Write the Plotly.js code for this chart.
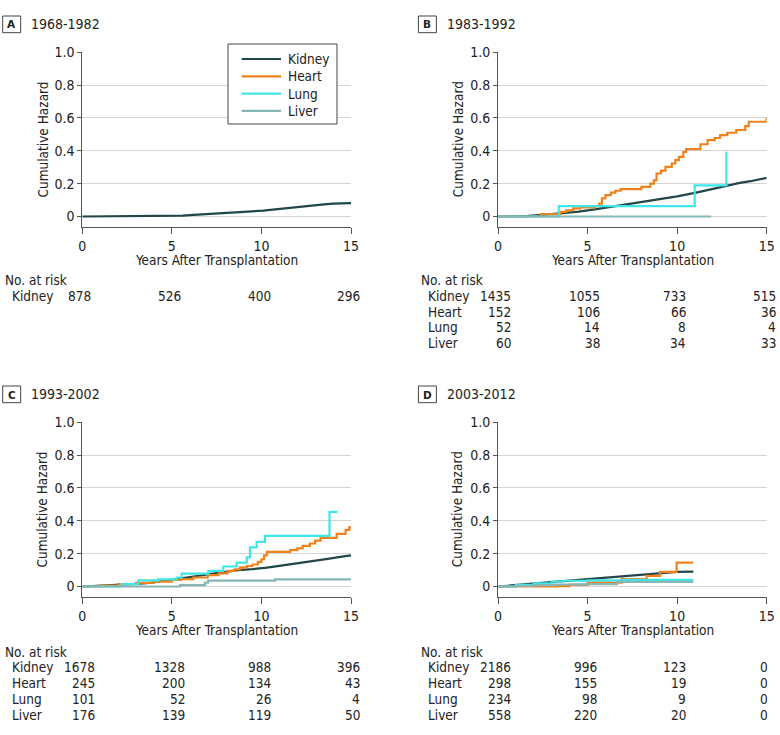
<!DOCTYPE html>
<html>
<head>
<meta charset="utf-8">
<script src="https://cdn.plot.ly/plotly-3.0.1.min.js"></script>
<style>
  body { margin: 0; background: #fff; }
  #chart { width: 780px; height: 735px; }
</style>
</head>
<body>
<div id="chart"></div>
<script>
// cumulative hazard curves (years, hazard)
const aKidneyT = [0, 3, 4.5, 5.2, 5.6, 6.0, 6.5, 7.0, 7.5, 8.0, 8.6, 9.2, 9.7, 10.1, 10.5, 10.9, 11.3, 11.8, 12.3, 12.6, 13.0, 13.5, 14.0, 14.8, 15];
const aKidneyH = [0, 0.001, 0.002, 0.004, 0.006, 0.008, 0.011, 0.013, 0.017, 0.021, 0.024, 0.028, 0.031, 0.036, 0.040, 0.045, 0.050, 0.054, 0.058, 0.065, 0.070, 0.074, 0.078, 0.080, 0.082];

const bKidneyT = [0, 1.0, 1.7, 2.5, 3.5, 4.5, 5.4, 6.3, 7.3, 8.2, 9.1, 10.0, 11.0, 12.0, 12.8, 13.5, 14.1, 15];
const bKidneyH = [0, 0.001, 0.004, 0.010, 0.018, 0.030, 0.043, 0.058, 0.075, 0.090, 0.105, 0.123, 0.144, 0.167, 0.190, 0.205, 0.215, 0.235];
const bHeartT = [0, 2.4, 3.5, 3.8, 4.2, 4.6, 5.4, 5.65, 5.8, 6.0, 6.3, 6.55, 6.85, 8.0, 8.5, 8.7, 8.85, 9.1, 9.35, 9.7, 9.9, 10.1, 10.35, 10.5, 11.3, 11.7, 12.1, 12.4, 12.8, 13.3, 13.8, 14.0, 15.0];
const bHeartH = [0, 0.014, 0.028, 0.038, 0.049, 0.055, 0.063, 0.078, 0.110, 0.130, 0.145, 0.157, 0.167, 0.180, 0.200, 0.220, 0.262, 0.280, 0.302, 0.323, 0.343, 0.363, 0.394, 0.410, 0.440, 0.465, 0.478, 0.496, 0.510, 0.527, 0.550, 0.577, 0.600];
const bLungT = [0, 3.39, 10.98, 12.75];
const bLungH = [0, 0.063, 0.190, 0.394];
const bLiverT = [0, 11.9];
const bLiverH = [0, 0];

const cKidneyT = [0, 1.0, 1.7, 2.7, 3.6, 4.5, 5.45, 6.4, 7.3, 8.1, 8.7, 9.5, 10.2, 11.0, 12.0, 12.9, 13.7, 14.4, 15];
const cKidneyH = [0, 0.004, 0.008, 0.014, 0.020, 0.033, 0.049, 0.064, 0.079, 0.093, 0.100, 0.106, 0.113, 0.126, 0.140, 0.156, 0.168, 0.180, 0.190];
const cHeartT = [0, 1, 2, 3, 4, 5, 5.5, 6.2, 7.0, 7.6, 8.1, 8.5, 8.8, 9.2, 9.5, 9.8, 10.0, 10.15, 10.3, 11.6, 12.0, 12.3, 12.7, 13.0, 13.3, 14.2, 14.7, 14.9, 15];
const cHeartH = [0, 0.006, 0.014, 0.022, 0.030, 0.040, 0.045, 0.055, 0.069, 0.080, 0.095, 0.105, 0.116, 0.125, 0.134, 0.150, 0.166, 0.190, 0.211, 0.222, 0.232, 0.248, 0.262, 0.280, 0.296, 0.320, 0.345, 0.360, 0.360];
const cLungT = [0, 2.2, 3.13, 4.24, 5.27, 5.55, 7.04, 7.87, 8.62, 9.18, 9.36, 9.73, 10.2, 13.8, 14.24];
const cLungH = [0, 0.014, 0.038, 0.043, 0.055, 0.079, 0.095, 0.122, 0.146, 0.177, 0.238, 0.272, 0.308, 0.455, 0.455];
const cLiverT = [0, 5.46, 6.85, 7.03, 10.76, 15];
const cLiverH = [0, 0.008, 0.024, 0.036, 0.044, 0.044];

const dKidneyT = [0, 1, 2, 3, 4, 5, 6, 7, 8, 9, 10, 10.9];
const dKidneyH = [0, 0.009, 0.018, 0.027, 0.036, 0.045, 0.054, 0.064, 0.075, 0.084, 0.089, 0.091];
const dHeartT = [0, 3.3, 4.0, 5.0, 6.9, 8.3, 9.05, 9.97, 10.9];
const dHeartH = [0, 0.003, 0.010, 0.024, 0.045, 0.065, 0.089, 0.146, 0.146];
const dLungT = [0, 1, 2, 3, 3.6, 5, 7, 10.9];
const dLungH = [0, 0.010, 0.020, 0.030, 0.035, 0.038, 0.040, 0.040];
const dLiverT = [0, 1, 2, 3, 4, 5, 6.6, 6.65, 10.9];
const dLiverH = [0, 0.004, 0.008, 0.011, 0.013, 0.014, 0.015, 0.028, 0.028];

// number at risk tables
const riskYears = [0, 5, 10, 15];
const aRiskKidney = [878, 526, 400, 296];
const bRiskKidney = [1435, 1055, 733, 515];
const bRiskHeart = [152, 106, 66, 36];
const bRiskLung = [52, 14, 8, 4];
const bRiskLiver = [60, 38, 34, 33];
const cRiskKidney = [1678, 1328, 988, 396];
const cRiskHeart = [245, 200, 134, 43];
const cRiskLung = [101, 52, 26, 4];
const cRiskLiver = [176, 139, 119, 50];
const dRiskKidney = [2186, 996, 123, 0];
const dRiskHeart = [298, 155, 19, 0];
const dRiskLung = [234, 98, 9, 0];
const dRiskLiver = [558, 220, 20, 0];

const organs = ['Kidney', 'Heart', 'Lung', 'Liver'];
const yTicks = [0, 0.2, 0.4, 0.6, 0.8, 1.0];
const yTickText = ['0', '0.2', '0.4', '0.6', '0.8', '1.0'];

const organColor = { Kidney: '#21474a', Heart: '#f0821e', Lung: '#3ee6e8', Liver: '#86b7b6' };
// kidney curves have very fine steps, so they read as a smooth line
const organShape = { Kidney: 'linear', Heart: 'hv', Lung: 'hv', Liver: 'hv' };
const FONT = '"DejaVu Sans Condensed", "Liberation Sans Narrow", sans-serif';
const FS = 13.5;
const TICK_FS = 14;
const TXT = '#222';
const W = 780, H = 735;
const px = v => v / W;
const py = v => 1 - v / H;

const panels = [
    { letter: 'A', period: '1968-1982', ox: 0, oy: 0,
      series: [['Kidney', aKidneyT, aKidneyH]],
      risk: [['Kidney', aRiskKidney]] },
    { letter: 'B', period: '1983-1992', ox: 415.7, oy: 0,
      series: [['Kidney', bKidneyT, bKidneyH], ['Heart', bHeartT, bHeartH], ['Lung', bLungT, bLungH], ['Liver', bLiverT, bLiverH]],
      risk: [['Kidney', bRiskKidney], ['Heart', bRiskHeart], ['Lung', bRiskLung], ['Liver', bRiskLiver]] },
    { letter: 'C', period: '1993-2002', ox: 0, oy: 370,
      series: [['Kidney', cKidneyT, cKidneyH], ['Heart', cHeartT, cHeartH], ['Lung', cLungT, cLungH], ['Liver', cLiverT, cLiverH]],
      risk: [['Kidney', cRiskKidney], ['Heart', cRiskHeart], ['Lung', cRiskLung], ['Liver', cRiskLiver]] },
    { letter: 'D', period: '2003-2012', ox: 415.7, oy: 370,
      series: [['Kidney', dKidneyT, dKidneyH], ['Heart', dHeartT, dHeartH], ['Lung', dLungT, dLungH], ['Liver', dLiverT, dLiverH]],
      risk: [['Kidney', dRiskKidney], ['Heart', dRiskHeart], ['Lung', dRiskLung], ['Liver', dRiskLiver]] }
];

const traces = [];
const annotations = [];
const shapes = [];
const layout = {
    width: W, height: H,
    margin: { l: 0, r: 0, t: 0, b: 0 },
    paper_bgcolor: '#fff',
    plot_bgcolor: 'rgba(0,0,0,0)',
    showlegend: false,
    font: { family: FONT, size: FS, color: TXT }
};

const txt = (x, y, text, anchor, extra) => Object.assign({
    xref: 'paper', yref: 'paper', x: x, y: y, text: text, showarrow: false,
    xanchor: anchor, yanchor: 'middle', font: { family: FONT, size: FS, color: TXT }
}, extra || {});

panels.forEach((p, i) => {
    const n = i === 0 ? '' : String(i + 1);
    const xa = 'x' + n, ya = 'y' + n;

    layout['xaxis' + n] = {
        domain: [px(82.3 + p.ox), px(351 + p.ox)],
        anchor: ya,
        range: [0, 15],
        tickvals: riskYears,
        showgrid: false, zeroline: false,
        showline: true, linecolor: '#555', linewidth: 1,
        ticks: 'outside', ticklen: 6, tickcolor: '#555',
        tickfont: { family: FONT, size: TICK_FS, color: TXT },
        fixedrange: true
    };
    layout['yaxis' + n] = {
        domain: [py(226.7 + p.oy), py(52.3 + p.oy)],
        anchor: xa,
        range: [-0.062, 1.0],
        tickvals: yTicks, ticktext: yTickText,
        showgrid: true, gridcolor: '#d4d4d4', gridwidth: 1,
        zeroline: false,
        showline: true, linecolor: '#555', linewidth: 1,
        ticks: 'outside', ticklen: 4, tickcolor: '#555',
        tickfont: { family: FONT, size: TICK_FS, color: TXT },
        fixedrange: true
    };

    p.series.forEach(([organ, t, h]) => {
        traces.push({
            x: t, y: h, xaxis: xa, yaxis: ya,
            type: 'scatter', mode: 'lines', name: organ,
            line: { shape: organShape[organ], width: 2.2, color: organColor[organ] },
            hoverinfo: 'skip'
        });
    });

    // panel letter box and period
    shapes.push({ type: 'rect', xref: 'paper', yref: 'paper',
        x0: px(2.7 + p.ox), x1: px(20.7 + p.ox), y0: py(32.7 + p.oy), y1: py(16 + p.oy),
        line: { color: '#444', width: 1 } });
    annotations.push(txt(px(11.7 + p.ox), py(24.5 + p.oy), '<b>' + p.letter + '</b>', 'center',
        { font: { family: '"DejaVu Sans", sans-serif', size: 10.5, color: TXT } }));
    annotations.push(txt(px(29.3 + p.ox), py(24.3 + p.oy), p.period, 'left',
        { font: { family: FONT, size: 14, color: TXT } }));

    // axis titles
    annotations.push(txt(px(42 + p.ox), py(139.5 + p.oy), 'Cumulative Hazard', 'center', { textangle: -90 }));
    annotations.push(txt(px(216.7 + p.ox), py(260 + p.oy), 'Years After Transplantation', 'center'));

    // number at risk table
    const tableTop = 280 + p.oy + (p.oy ? 1.5 : 0);
    annotations.push(txt(px(3 + p.ox), py(tableTop), 'No. at risk', 'left'));
    p.risk.forEach(([organ, counts], r) => {
        const rowY = py(tableTop + 15.8 * (r + 1));
        annotations.push(txt(px(10 + p.ox), rowY, organ, 'left'));
        counts.forEach((c, k) => {
            // columns are right aligned so the widest entry sits centred on the tick
            const widest = Math.max(...p.risk.map(rw => String(rw[1][k]).length));
            annotations.push(txt(riskYears[k], rowY, String(c), 'right',
                { xref: xa, xshift: widest * 3.7 }));
        });
    });
});

// legend drawn in panel A
shapes.push({ type: 'rect', xref: 'paper', yref: 'paper',
    x0: px(228), x1: px(337), y0: py(124), y1: py(44),
    fillcolor: '#fff', line: { color: '#444', width: 1 }, layer: 'above' });
organs.forEach((organ, k) => {
    const ly = 59 + 17.3 * k;
    shapes.push({ type: 'line', xref: 'paper', yref: 'paper',
        x0: px(241.7), x1: px(281), y0: py(ly), y1: py(ly),
        line: { color: organColor[organ], width: 2.2 }, layer: 'above' });
    annotations.push(txt(px(286), py(ly), organ, 'left'));
});

layout.annotations = annotations;
layout.shapes = shapes;

Plotly.newPlot('chart', traces, layout, { displayModeBar: false, staticPlot: true });
</script>
</body>
</html>
